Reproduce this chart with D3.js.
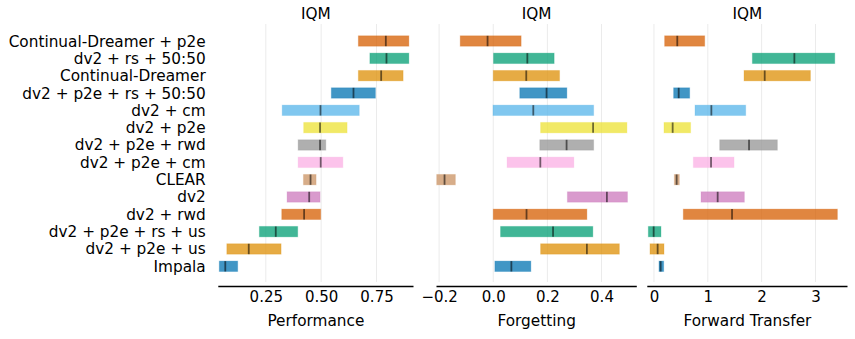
<!DOCTYPE html>
<html>
<head>
<meta charset="utf-8">
<script src="https://cdn.jsdelivr.net/npm/d3@7"></script>
<style>
  html, body { margin: 0; padding: 0; background: #fff; }
  svg { display: block; font-family: "DejaVu Sans", sans-serif; }
</style>
</head>
<body>
<svg id="chart" width="855" height="339"></svg>
<script>
// ---------- data ----------
const methods = [
  "Continual-Dreamer + p2e", "dv2 + rs + 50:50", "Continual-Dreamer",
  "dv2 + p2e + rs + 50:50", "dv2 + cm", "dv2 + p2e", "dv2 + p2e + rwd",
  "dv2 + p2e + cm", "CLEAR", "dv2", "dv2 + rwd", "dv2 + p2e + rs + us",
  "dv2 + p2e + us", "Impala"
];
const colors = [
  "#d55e00", "#029e73", "#de8f05", "#0173b2", "#56b4e9", "#ece133", "#949494",
  "#fbafe4", "#ca9161", "#cc78bc", "#d55e00", "#029e73", "#de8f05", "#0173b2"
];

// Performance: lower CI, IQM, upper CI
const perfLow  = [0.668, 0.720, 0.668, 0.546, 0.324, 0.421, 0.396, 0.396, 0.420, 0.346, 0.322, 0.221, 0.074, 0.040];
const perfIQM  = [0.792, 0.795, 0.771, 0.646, 0.497, 0.495, 0.495, 0.498, 0.452, 0.446, 0.423, 0.295, 0.173, 0.067];
const perfHigh = [0.896, 0.896, 0.870, 0.745, 0.672, 0.617, 0.521, 0.598, 0.477, 0.495, 0.498, 0.394, 0.319, 0.123];

// Forgetting
const forgLow  = [-0.122, 0.001, 0.000, 0.098, -0.001, 0.175, 0.172, 0.051, -0.209, 0.274, 0.000, 0.027, 0.175, 0.006];
const forgIQM  = [-0.021, 0.126, 0.122, 0.197, 0.148, 0.369, 0.271, 0.174, -0.180, 0.420, 0.123, 0.221, 0.346, 0.067];
const forgHigh = [0.103, 0.225, 0.245, 0.272, 0.371, 0.494, 0.371, 0.298, -0.140, 0.496, 0.346, 0.368, 0.466, 0.139];

// Forward Transfer
const ftLow  = [0.198, 1.828, 1.673, 0.365, 0.762, 0.186, 1.221, 0.731, 0.378, 0.874, 0.545, -0.105, -0.074, 0.093];
const ftIQM  = [0.433, 2.608, 2.057, 0.459, 1.066, 0.347, 1.766, 1.060, 0.421, 1.183, 1.450, -0.006, 0.068, 0.124];
const ftHigh = [0.942, 3.358, 2.906, 0.663, 1.704, 0.681, 2.292, 1.487, 0.471, 1.679, 3.407, 0.130, 0.186, 0.180];

const perfTicks = [0.25, 0.50, 0.75];
const forgTicks = [-0.2, 0.0, 0.2, 0.4];
const ftTicks = [0, 1, 2, 3];

const panels = [
  { label: "Performance", low: perfLow, mid: perfIQM, high: perfHigh, ticks: perfTicks,
    fmt: d3.format(".2f"), domain: [0.0355, 0.917], range: [218.3, 413.5] },
  { label: "Forgetting", low: forgLow, mid: forgIQM, high: forgHigh, ticks: forgTicks,
    fmt: d => (d < 0 ? "\u2212" : "") + Math.abs(d).toFixed(1), domain: [-0.2097, 0.5305], range: [436.5, 636.8] },
  { label: "Forward Transfer", low: ftLow, mid: ftIQM, high: ftHigh, ticks: ftTicks,
    fmt: d3.format("d"), domain: [-0.124, 3.595], range: [647.3, 847.5] }
];

// ---------- drawing ----------
const svg = d3.select("#chart");
const y = d3.scalePoint().domain(methods).range([41, 266.3]);
const rowStep = y.step();
const barH = rowStep * 0.6;
const plotTop = 24, plotBottom = 282, axisY = 286.5;
const fontSize = 15.3;

// y labels
svg.append("g").selectAll("text").data(methods).join("text")
  .attr("x", 205.7)
  .attr("y", d => y(d))
  .attr("dy", "0.36em")
  .attr("text-anchor", "end")
  .attr("font-size", fontSize)
  .attr("fill", "#000")
  .text(d => d);

panels.forEach(p => {
  const x = d3.scaleLinear().domain(p.domain).range(p.range);
  const g = svg.append("g");

  // grid
  g.append("g").selectAll("line").data(p.ticks).join("line")
    .attr("x1", d => x(d)).attr("x2", d => x(d))
    .attr("y1", plotTop).attr("y2", plotBottom)
    .attr("stroke", "#ebebeb").attr("stroke-width", 1);

  // bars
  g.append("g").selectAll("rect").data(methods).join("rect")
    .attr("x", (d, i) => x(p.low[i]))
    .attr("width", (d, i) => x(p.high[i]) - x(p.low[i]))
    .attr("y", d => y(d) - barH / 2)
    .attr("height", barH)
    .attr("fill", (d, i) => colors[i])
    .attr("fill-opacity", 0.75)
    .attr("stroke", (d, i) => colors[i])
    .attr("stroke-opacity", 0.25)
    .attr("stroke-width", 1);

  // median lines
  g.append("g").selectAll("line").data(methods).join("line")
    .attr("x1", (d, i) => x(p.mid[i])).attr("x2", (d, i) => x(p.mid[i]))
    .attr("y1", d => y(d) - barH / 2).attr("y2", d => y(d) + barH / 2)
    .attr("stroke", "#000").attr("stroke-opacity", 0.55).attr("stroke-width", 1.8);

  // x axis
  const axis = d3.axisBottom(x).tickValues(p.ticks).tickFormat(p.fmt).tickSize(0).tickPadding(5);
  const ax = g.append("g").attr("transform", `translate(0,${axisY})`).call(axis);
  ax.select(".domain").attr("stroke", "#000").attr("stroke-width", 1.4)
    .attr("d", `M${p.range[0]},0H${p.range[1]}`);
  ax.selectAll("text").attr("font-size", 15).attr("fill", "#000")
    .attr("font-family", "DejaVu Sans, sans-serif");

  // axis label
  g.append("text")
    .attr("x", (p.range[0] + p.range[1]) / 2)
    .attr("y", 326)
    .attr("text-anchor", "middle")
    .attr("font-size", fontSize)
    .attr("fill", "#000")
    .text(p.label);

  // title
  g.append("text")
    .attr("x", (p.range[0] + p.range[1]) / 2)
    .attr("y", 19)
    .attr("text-anchor", "middle")
    .attr("font-size", fontSize)
    .attr("fill", "#000")
    .text("IQM");
});
</script>
</body>
</html>
